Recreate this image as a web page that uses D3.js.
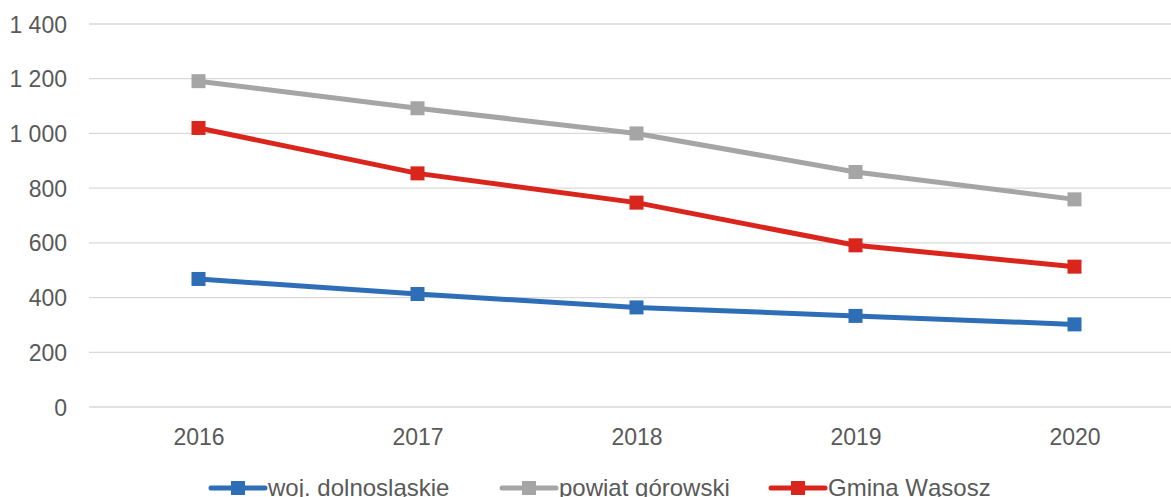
<!DOCTYPE html>
<html>
<head>
<meta charset="utf-8">
<script src="https://cdn.jsdelivr.net/npm/d3@7"></script>
<style>
    body { margin: 0; background: #ffffff; }
    #chart text { font-family: "Liberation Sans", Arial, sans-serif; fill: #595959; }
</style>
</head>
<body>
<div id="chart"></div>
<script>
width = 1171
height = 497

// data
let years = ["2016", "2017", "2018", "2019", "2020"]
let yTicks = [0, 200, 400, 600, 800, 1000, 1200, 1400]
let seriesNames = ["woj. dolnosląskie", "powiat górowski", "Gmina Wąsosz"]
let seriesColors = ["#2e6eb7", "#a5a5a5", "#da251c"]
let wojValues = [468, 413, 364, 333, 302]
let powiatValues = [1191, 1092, 1000, 859, 759]
let gminaValues = [1020, 854, 747, 591, 513]

let series = [wojValues, powiatValues, gminaValues].map((values, i) => ({
    name: seriesNames[i],
    color: seriesColors[i],
    values: values
}))

let svg = d3.select("#chart")
    .append("svg")
    .attr("width", width)
    .attr("height", height)

let x = d3.scalePoint()
    .domain(years)
    .range([89, 1184])
    .padding(0.5)

let y = d3.scaleLinear()
    .domain([0, 1400])
    .range([407, 24])

let fmt = v => d3.format(",")(v).replace(/,/g, " ")

// gridlines
svg.append("g")
    .selectAll("line")
    .data(yTicks)
    .join("line")
    .attr("x1", 89)
    .attr("x2", width)
    .attr("y1", d => y(d))
    .attr("y2", d => y(d))
    .attr("stroke", "#d9d9d9")
    .attr("stroke-width", 1.3)

// y axis labels
let yAxis = svg.append("g")
    .attr("transform", "translate(67,0)")
    .call(d3.axisLeft(y).tickValues(yTicks).tickFormat(fmt).tickSize(0).tickPadding(0))
yAxis.select(".domain").remove()
yAxis.selectAll("text")
    .style("font-size", "23px")
    .attr("dy", "0.35em")

// x axis labels
let xAxis = svg.append("g")
    .attr("transform", "translate(0,407)")
    .call(d3.axisBottom(x).tickSize(0).tickPadding(0))
xAxis.select(".domain").remove()
xAxis.selectAll("text")
    .style("font-size", "23px")
    .attr("y", 38)
    .attr("dy", 0)

let line = d3.line()
    .x((d, i) => x(years[i]))
    .y(d => y(d))

let markerSize = 14

series.forEach(s => {
    let g = svg.append("g")
    g.append("path")
        .datum(s.values)
        .attr("d", line)
        .attr("fill", "none")
        .attr("stroke", s.color)
        .attr("stroke-width", 5)
        .attr("stroke-linejoin", "round")
        .attr("stroke-linecap", "round")
    g.selectAll("rect")
        .data(s.values)
        .join("rect")
        .attr("x", (d, i) => x(years[i]) - markerSize / 2)
        .attr("y", d => y(d) - markerSize / 2)
        .attr("width", markerSize)
        .attr("height", markerSize)
        .attr("fill", s.color)
})

// legend (cut by the bottom edge, as in the original)
let legendX = [211, 502, 771]
let legend = svg.append("g")
    .attr("transform", "translate(0,488)")

series.forEach((s, i) => {
    let row = legend.append("g")
        .attr("transform", "translate(" + legendX[i] + ",0)")
    row.append("line")
        .attr("x1", 0)
        .attr("x2", 54)
        .attr("stroke", s.color)
        .attr("stroke-width", 5)
        .attr("stroke-linecap", "round")
    row.append("rect")
        .attr("x", 27 - markerSize / 2)
        .attr("y", -markerSize / 2)
        .attr("width", markerSize)
        .attr("height", markerSize)
        .attr("fill", s.color)
    row.append("text")
        .attr("x", 57)
        .attr("y", 0)
        .attr("dy", "0.35em")
        .style("font-size", "24px")
        .text(s.name)
})
</script>
</body>
</html>
